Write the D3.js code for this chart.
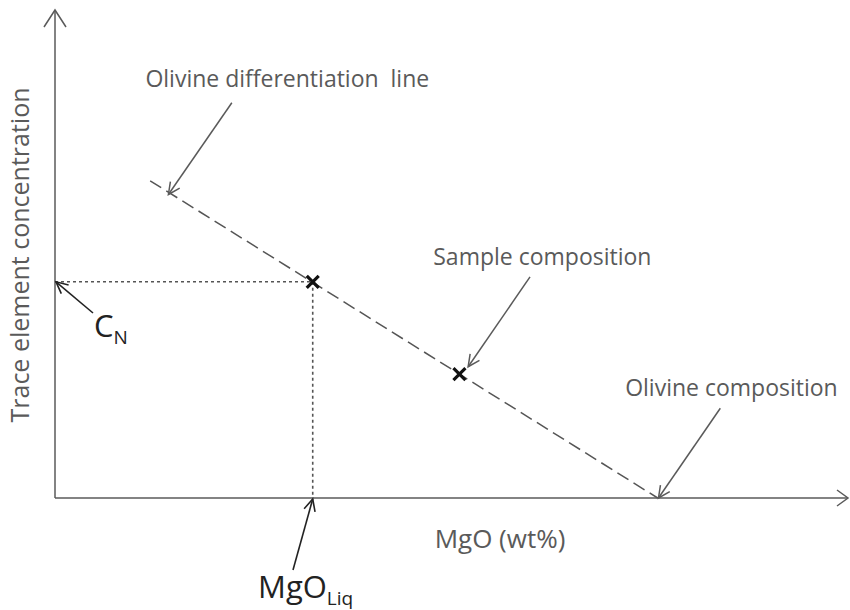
<!DOCTYPE html>
<html><head><meta charset="utf-8">
<script src="https://cdn.jsdelivr.net/npm/d3@7"></script>
<style>body{margin:0;background:#fff}svg text{font-family:"Open Sans","Noto Sans",sans-serif;white-space:pre}</style>
</head><body><svg id="c" width="850" height="610"></svg>
<script>
// Data (arbitrary units, schematic diagram)
const lineEnds = [{x: 12, y: 65}, {x: 76, y: 0}];          // olivine differentiation line
const samplePoint = {x: 51, y: 25.4};                       // sample composition
const liquidPoint = {x: 32.5, y: 44.3};                     // MgO_Liq / C_N point
const axisLabels = {x: "MgO (wt%)", y: "Trace element concentration"};
const annotations = [
  {text: "Olivine differentiation  line", tx: 11.4, ty: 84.2, from: [22.3, 81], to: [14.3, 62.2]},
  {text: "Sample composition", tx: 47.7, ty: 47.7, from: [59.9, 45.3], to: [52.1, 26.9]},
  {text: "Olivine composition", tx: 71.9, ty: 20.9, from: [83.9, 18.4], to: [76.1, 0]}
];

const svg = d3.select("#c");
const x = d3.scaleLinear().domain([0, 100]).range([55, 848]);
const y = d3.scaleLinear().domain([0, 100]).range([498, 10]);
const grey = "#5a5a5a";

// axes
svg.append("line").attr("x1", x(0)).attr("y1", y(0)).attr("x2", x(0)).attr("y2", y(100))
  .attr("stroke", grey).attr("stroke-width", 1.5);
svg.append("line").attr("x1", x(0)).attr("y1", y(0)).attr("x2", x(100)).attr("y2", y(0))
  .attr("stroke", grey).attr("stroke-width", 1.5);
// axis arrowheads (open chevrons)
svg.append("path").attr("d", `M${x(0)-11},${y(100)+17}L${x(0)},${y(100)}L${x(0)+11},${y(100)+17}`)
  .attr("fill", "none").attr("stroke", grey).attr("stroke-width", 1.5);
svg.append("path").attr("d", `M${x(100)-11},${y(0)-8}L${x(100)},${y(0)}L${x(100)-11},${y(0)+8}`)
  .attr("fill", "none").attr("stroke", grey).attr("stroke-width", 1.5);

// dashed differentiation line
svg.append("line")
  .attr("x1", x(lineEnds[0].x)).attr("y1", y(lineEnds[0].y))
  .attr("x2", x(lineEnds[1].x)).attr("y2", y(lineEnds[1].y))
  .attr("stroke", "#555").attr("stroke-width", 1.5).attr("stroke-dasharray", "13,6");

// dotted projections
svg.append("line").attr("x1", x(0)).attr("y1", y(liquidPoint.y)).attr("x2", x(liquidPoint.x)).attr("y2", y(liquidPoint.y))
  .attr("stroke", "#555").attr("stroke-width", 1.6).attr("stroke-dasharray", "3,3");
svg.append("line").attr("x1", x(liquidPoint.x)).attr("y1", y(liquidPoint.y)).attr("x2", x(liquidPoint.x)).attr("y2", y(0))
  .attr("stroke", "#555").attr("stroke-width", 1.6).attr("stroke-dasharray", "3,3");

// x markers
[liquidPoint, samplePoint].forEach(p => {
  const cx = x(p.x), cy = y(p.y), s = 6;
  svg.append("path").attr("d", `M${cx-s},${cy-s}L${cx+s},${cy+s}M${cx-s},${cy+s}L${cx+s},${cy-s}`)
    .attr("stroke", "#111").attr("stroke-width", 3.2);
});

// arrows with open heads
function arrow(x1, y1, x2, y2, color, w) {
  svg.append("line").attr("x1", x1).attr("y1", y1).attr("x2", x2).attr("y2", y2)
    .attr("stroke", color).attr("stroke-width", w);
  const a = Math.atan2(y2 - y1, x2 - x1), L = 13, sp = 0.45;
  const p1 = [x2 - L * Math.cos(a - sp), y2 - L * Math.sin(a - sp)];
  const p2 = [x2 - L * Math.cos(a + sp), y2 - L * Math.sin(a + sp)];
  svg.append("path").attr("d", `M${p1}L${x2},${y2}L${p2}`).attr("fill", "none")
    .attr("stroke", color).attr("stroke-width", w);
}

annotations.forEach(a => {
  svg.append("text").attr("x", x(a.tx)).attr("y", y(a.ty)).text(a.text)
    .attr("font-size", 23).attr("fill", grey);
  arrow(x(a.from[0]), y(a.from[1]), x(a.to[0]), y(a.to[1]), grey, 1.5);
});

// C_N
arrow(93, 313, x(0) + 1, y(liquidPoint.y), "#222", 1.6);
const cn = svg.append("text").attr("x", 94).attr("y", 337).attr("font-size", 31).attr("fill", "#222");
cn.append("tspan").text("C");
cn.append("tspan").text("N").attr("font-size", 19).attr("dy", 7);

// MgO_Liq
arrow(293, 570, x(liquidPoint.x), y(0) + 1, "#222", 1.6);
const ml = svg.append("text").attr("x", 258).attr("y", 598).attr("font-size", 31).attr("fill", "#222");
ml.append("tspan").text("MgO");
ml.append("tspan").text("Liq").attr("font-size", 19).attr("dy", 7);

// axis titles
svg.append("text").attr("x", 500).attr("y", 548).attr("text-anchor", "middle")
  .attr("font-size", 26).attr("fill", grey).text(axisLabels.x);
svg.append("text").attr("transform", "translate(29,255) rotate(-90)").attr("text-anchor", "middle")
  .attr("font-size", 25).attr("fill", grey).text(axisLabels.y);
</script></body></html>
